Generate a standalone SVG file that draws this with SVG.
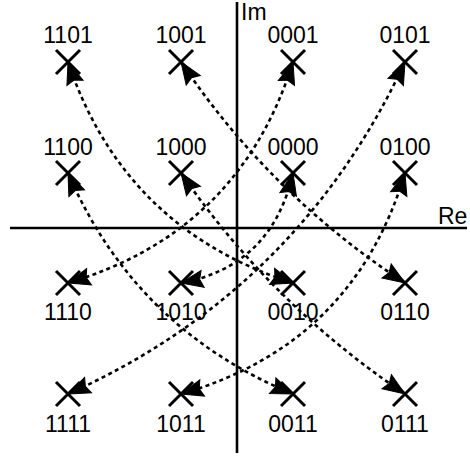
<svg xmlns="http://www.w3.org/2000/svg" width="470" height="457" viewBox="0 0 470 457">
<style>
.axis{stroke:#000;stroke-width:2.6;fill:none}
.x{stroke:#000;stroke-width:3;fill:none}
.c{stroke:#000;stroke-width:2.6;fill:none;stroke-dasharray:4 3.5}
.h{fill:#000;stroke:#000;stroke-width:1;stroke-linejoin:miter}
text{font-family:"Liberation Sans",Arial,sans-serif;font-size:23px;fill:#000}
.lb{text-anchor:middle}
</style>
<defs>
<path id="ah" class="h" d="M0,0 L-22,-8.5 L-19,0 L-22,8.5 Z"/>
<path id="xm" d="M-12,-12 L12,12 M-12,12 L12,-12" class="x"/>
</defs>
<g id="axes">
<line class="axis" x1="10" y1="228" x2="467" y2="228"/>
<line class="axis" x1="237" y1="2" x2="237" y2="453"/>
<text x="241" y="20">Im</text>
<text x="438" y="224">Re</text>
</g>
<g id="connectors">
<path class="c" d="M68,62 Q124,229 293,283"/>
<use href="#ah" transform="translate(68,62) rotate(-108.5)"/>
<use href="#ah" transform="translate(293,283) rotate(17.7)"/>
<path class="c" d="M181,62 Q270.4,195.1 405,283"/>
<use href="#ah" transform="translate(181,62) rotate(-123.9)"/>
<use href="#ah" transform="translate(405,283) rotate(33.1)"/>
<path class="c" d="M68,173 Q135.2,328.8 293,394"/>
<use href="#ah" transform="translate(68,173) rotate(-113.3)"/>
<use href="#ah" transform="translate(293,394) rotate(22.4)"/>
<path class="c" d="M181,173 Q271.8,304.7 405,394"/>
<use href="#ah" transform="translate(181,173) rotate(-124.6)"/>
<use href="#ah" transform="translate(405,394) rotate(33.8)"/>
<path class="c" d="M293,62 Q239.9,231.9 68,283"/>
<use href="#ah" transform="translate(293,62) rotate(-72.6)"/>
<use href="#ah" transform="translate(68,283) rotate(163.4)"/>
<path class="c" d="M405,62 Q298,291 68,394"/>
<use href="#ah" transform="translate(405,62) rotate(-65)"/>
<use href="#ah" transform="translate(68,394) rotate(155.9)"/>
<path class="c" d="M293,173 Q272,266 181,283"/>
<use href="#ah" transform="translate(293,173) rotate(-77.3)"/>
<use href="#ah" transform="translate(181,283) rotate(169.4)"/>
<path class="c" d="M405,173 Q353.8,344.3 181,394"/>
<use href="#ah" transform="translate(405,173) rotate(-73.4)"/>
<use href="#ah" transform="translate(181,394) rotate(164)"/>
</g>
<g id="n1101"><use href="#xm" x="68" y="62"/><text class="lb" x="68" y="43">1101</text></g>
<g id="n1001"><use href="#xm" x="181" y="62"/><text class="lb" x="181" y="43">1001</text></g>
<g id="n0001"><use href="#xm" x="293" y="62"/><text class="lb" x="293" y="43">0001</text></g>
<g id="n0101"><use href="#xm" x="405" y="62"/><text class="lb" x="405" y="43">0101</text></g>
<g id="n1100"><use href="#xm" x="68" y="173"/><text class="lb" x="68" y="155">1100</text></g>
<g id="n1000"><use href="#xm" x="181" y="173"/><text class="lb" x="181" y="155">1000</text></g>
<g id="n0000"><use href="#xm" x="293" y="173"/><text class="lb" x="293" y="155">0000</text></g>
<g id="n0100"><use href="#xm" x="405" y="173"/><text class="lb" x="405" y="155">0100</text></g>
<g id="n1110"><use href="#xm" x="68" y="283"/><text class="lb" x="68" y="320">1110</text></g>
<g id="n1010"><use href="#xm" x="181" y="283"/><text class="lb" x="181" y="320">1010</text></g>
<g id="n0010"><use href="#xm" x="293" y="283"/><text class="lb" x="293" y="320">0010</text></g>
<g id="n0110"><use href="#xm" x="405" y="283"/><text class="lb" x="405" y="320">0110</text></g>
<g id="n1111"><use href="#xm" x="68" y="394"/><text class="lb" x="68" y="432">1111</text></g>
<g id="n1011"><use href="#xm" x="181" y="394"/><text class="lb" x="181" y="432">1011</text></g>
<g id="n0011"><use href="#xm" x="293" y="394"/><text class="lb" x="293" y="432">0011</text></g>
<g id="n0111"><use href="#xm" x="405" y="394"/><text class="lb" x="405" y="432">0111</text></g>
</svg>
